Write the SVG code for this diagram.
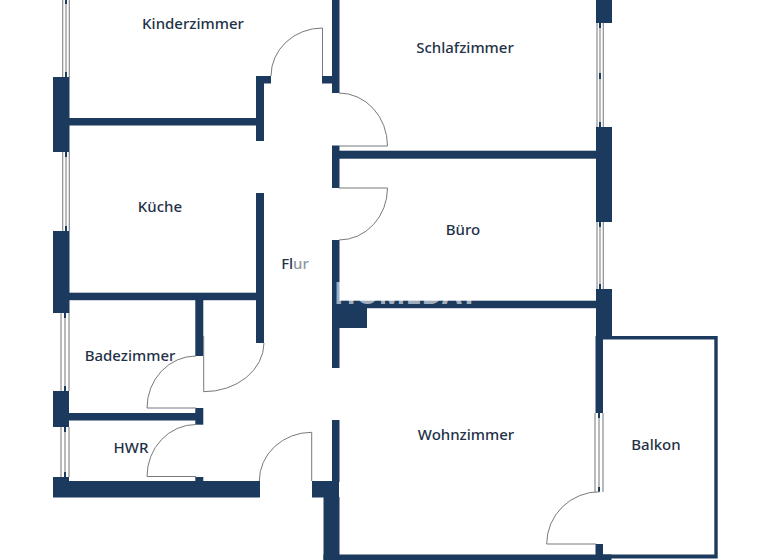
<svg xmlns="http://www.w3.org/2000/svg" width="768" height="560" viewBox="0 0 768 560">
<style>
.w{fill:#1c3a5e}
.d{fill:none;stroke:#77797c;stroke-width:1}
.g{fill:none;stroke:#8a8d90;stroke-width:1.2}
.k{fill:#1c3a5e}
text{font-family:"Noto Sans","Open Sans",sans-serif;font-size:15px;font-weight:500;fill:#1f3248;text-anchor:middle}
#watermark text{font-size:31px;font-weight:700;fill:#fff;fill-opacity:.6;text-anchor:start}
</style>
<rect width="768" height="560" fill="#fff"/>
<g id="walls" class="w">
<rect x="53" y="77" width="16.5" height="75"/>
<rect x="53" y="231" width="16.5" height="82"/>
<rect x="53" y="391" width="16" height="36"/>
<rect x="53" y="477" width="16" height="20"/>
<rect x="53" y="481" width="207" height="16.5"/>
<rect x="69" y="118" width="188" height="7.5"/>
<rect x="256" y="76" width="8" height="65"/>
<rect x="256" y="76" width="15" height="7.5"/>
<rect x="256" y="193" width="8" height="150"/>
<rect x="69" y="292.700" width="188" height="7.5"/>
<rect x="195.300" y="300" width="8" height="56"/>
<rect x="69" y="413" width="127" height="7.5"/>
<rect x="195.300" y="408" width="8" height="16.700"/>
<rect x="195.300" y="477" width="8" height="5"/>
<rect x="332" y="0" width="7.5" height="93"/>
<rect x="322" y="76" width="10" height="7.5"/>
<rect x="332" y="145.500" width="7.5" height="42.500"/>
<rect x="339" y="150.700" width="258" height="8"/>
<rect x="332" y="240" width="7.5" height="128"/>
<rect x="339" y="308" width="28" height="20"/>
<rect x="339" y="300.700" width="258" height="7.5"/>
<rect x="332" y="420" width="7.5" height="62"/>
<rect x="312" y="481" width="27" height="16.500"/>
<rect x="323.500" y="497" width="16" height="63"/>
<rect x="323.500" y="554.500" width="288" height="5.500"/>
<rect x="595.500" y="544" width="7.5" height="16"/>
<rect x="596" y="0" width="16" height="23"/>
<rect x="596" y="127" width="16" height="95"/>
<rect x="596" y="289" width="16" height="48"/>
<rect x="595.500" y="336" width="7.5" height="77"/>
<path d="M602 336H717.700V558.500H602V554.500H714.300V339.500H602Z"/>
</g>
<g id="windows">
<path class="g" d="M62.700 0V77M66 0V77M69.300 0V77M62.700 152V231M66 152V231M69.300 152V231M61 313V391M65 313V391M69 313V391M61 427V477M65 427V477M69 427V477M597 23V127M600 23V127M603.300 23V127M597 222V289M600 222V289M603.300 222V289M595 413V492M599 413V492M603 413V492"/>
<path class="k" d="M65 0h2v4h-2ZM65 72h2v5h-2ZM65 152h2v5h-2ZM65 226h2v5h-2ZM64 313h2v5h-2ZM64 386h2v5h-2ZM64 427h2v5h-2ZM64 472h2v5h-2ZM599 23h2v5h-2ZM599 73h2v6h-2ZM599 122h2v5h-2ZM599 222h2v5h-2ZM599 284h2v5h-2ZM598 413h2v5h-2ZM598 487h2v5h-2Z"/>
</g>
<g id="doors">
<path class="d" d="M322.500 76V28A51.500 48 0 0 0 271 76"/>
<path class="d" d="M339 93A48.500 53 0 0 1 387.500 146H339"/>
<path class="d" d="M339 188H387.500A48.500 52 0 0 1 339 240"/>
<path class="d" d="M264 343A60 49 0 0 1 203.700 391.700V336"/>
<path class="d" d="M196 356A49 52 0 0 0 147 408H196"/>
<path class="d" d="M196 424.500A49 52 0 0 0 147 476.500H196"/>
<path class="d" d="M311.700 481V432.300A52.400 48.700 0 0 0 259.300 481"/>
<path class="d" d="M600 491.700A53 52.300 0 0 0 546.700 544H596"/>
</g>
<g id="watermark"><text x="334" y="304" textLength="144" lengthAdjust="spacingAndGlyphs">HOMEDAY</text></g>
<g id="labels">
<text x="193" y="29">Kinderzimmer</text>
<text x="465" y="53">Schlafzimmer</text>
<text x="160" y="212">Küche</text>
<text x="463" y="235">Büro</text>
<text x="295" y="269">Fl<tspan fill="#8f98a3">ur</tspan></text>
<text x="130" y="361">Badezimmer</text>
<text x="131" y="453">HWR</text>
<text x="466" y="440">Wohnzimmer</text>
<text x="656" y="450">Balkon</text>
</g>
</svg>
